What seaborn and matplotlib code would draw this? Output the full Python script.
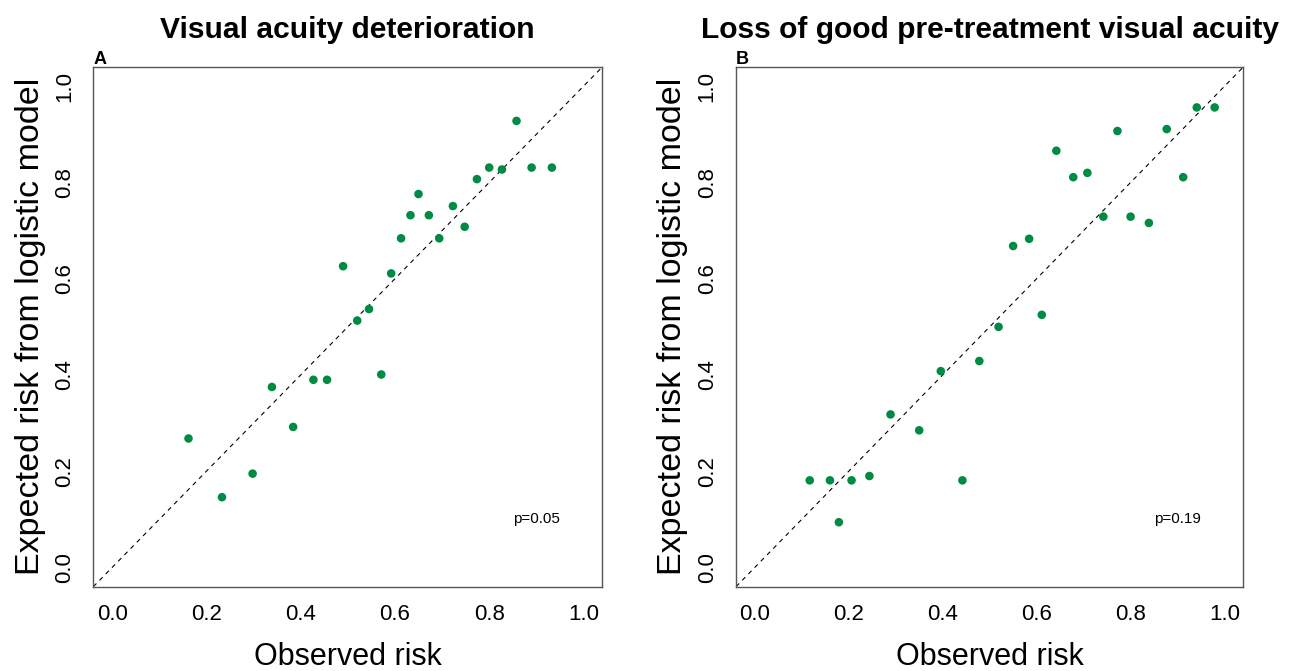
import matplotlib
matplotlib.use("Agg")
import matplotlib.pyplot as plt
import seaborn as sns
import pandas as pd

# ---- data ----
obs_a = [0.162, 0.233, 0.298, 0.339, 0.384, 0.427, 0.456, 0.490, 0.520, 0.545,
         0.571, 0.592, 0.613, 0.633, 0.650, 0.672, 0.694, 0.723, 0.748, 0.774,
         0.800, 0.827, 0.858, 0.890, 0.933]
exp_a = [0.268, 0.146, 0.195, 0.375, 0.292, 0.390, 0.390, 0.626, 0.513, 0.537,
         0.401, 0.611, 0.684, 0.732, 0.776, 0.732, 0.684, 0.751, 0.708, 0.807,
         0.831, 0.827, 0.928, 0.831, 0.831]

obs_b = [0.117, 0.160, 0.179, 0.206, 0.244, 0.289, 0.350, 0.396, 0.442, 0.478,
         0.519, 0.550, 0.584, 0.611, 0.642, 0.678, 0.708, 0.742, 0.772, 0.800,
         0.839, 0.877, 0.912, 0.941, 0.979]
exp_b = [0.181, 0.181, 0.094, 0.181, 0.190, 0.318, 0.285, 0.408, 0.181, 0.429,
         0.500, 0.668, 0.683, 0.525, 0.866, 0.811, 0.820, 0.729, 0.907, 0.729,
         0.716, 0.911, 0.811, 0.956, 0.956]

titles = ["Visual acuity deterioration", "Loss of good pre-treatment visual acuity"]
panel_labels = ["A", "B"]
pvals = ["p=0.05", "p=0.19"]
ticks = [0.0, 0.2, 0.4, 0.6, 0.8, 1.0]
tick_labels = ["0.0", "0.2", "0.4", "0.6", "0.8", "1.0"]
xlabel = "Observed risk"
ylabel = "Expected risk from logistic model"

sns.set_theme(style="white")
plt.rcParams["font.family"] = ["Liberation Sans", "DejaVu Sans"]
plt.rcParams["text.color"] = "black"
plt.rcParams["axes.labelcolor"] = "black"
plt.rcParams["xtick.color"] = "black"
plt.rcParams["ytick.color"] = "black"

W, H = 1298, 671
fig = plt.figure(figsize=(W / 100, H / 100), dpi=100)
ax_h = 519.7
axes = [
    fig.add_axes([93.3 / W, (H - 586.7) / H, 509.0 / W, ax_h / H]),
    fig.add_axes([736.0 / W, (H - 586.7) / H, 507.3 / W, ax_h / H]),
]

data = [pd.DataFrame({"obs": obs_a, "exp": exp_a}),
        pd.DataFrame({"obs": obs_b, "exp": exp_b})]

green = "#008B45"
spine_c = "#555555"

for ax, df, title, lab, pv in zip(axes, data, titles, panel_labels, pvals):
    ax.axline((0, 0), (1, 1), color="black", lw=0.8, ls=(0, (4, 4)), zorder=1)
    sns.scatterplot(data=df, x="obs", y="exp", ax=ax, color=green, s=38,
                    edgecolor="none", linewidth=0, zorder=3)
    ax.set_xlim(-0.04, 1.04)
    ax.set_ylim(-0.04, 1.04)
    ax.set_xticks(ticks)
    ax.set_xticklabels(tick_labels)
    ax.set_yticks(ticks)
    ax.set_yticklabels(tick_labels, rotation=90, va="center")
    ax.tick_params(axis="both", direction="out", length=7.2, width=0.9,
                   color=spine_c, labelsize=16, labelcolor="black")
    ax.tick_params(axis="x", pad=5)
    ax.tick_params(axis="y", pad=6)
    for sp in ax.spines.values():
        sp.set_color(spine_c)
        sp.set_linewidth(1.0)
    ax.set_xlabel("")
    ax.set_ylabel("")
    wpx = ax.get_position().width * W
    ax.text(0.5, -(665 - 586.7) / ax_h, xlabel, transform=ax.transAxes,
            ha="center", va="baseline", fontsize=22)
    ax.text(-63.0 / wpx, 0.5, ylabel, transform=ax.transAxes, rotation=90,
            ha="center", va="center", fontsize=24.5)
    ax.text(0.5, 1 + (67 - 38) / ax_h, title, transform=ax.transAxes,
            ha="center", va="baseline", fontsize=21.6, fontweight="bold")
    ax.text(0.0, 1 + 3.5 / ax_h, lab, transform=ax.transAxes,
            ha="left", va="baseline", fontsize=13, fontweight="bold")
    ax.text(0.9, 0.1, pv, ha="center", va="center", fontsize=11)

fig.savefig("out.png", dpi=100, facecolor="white")
